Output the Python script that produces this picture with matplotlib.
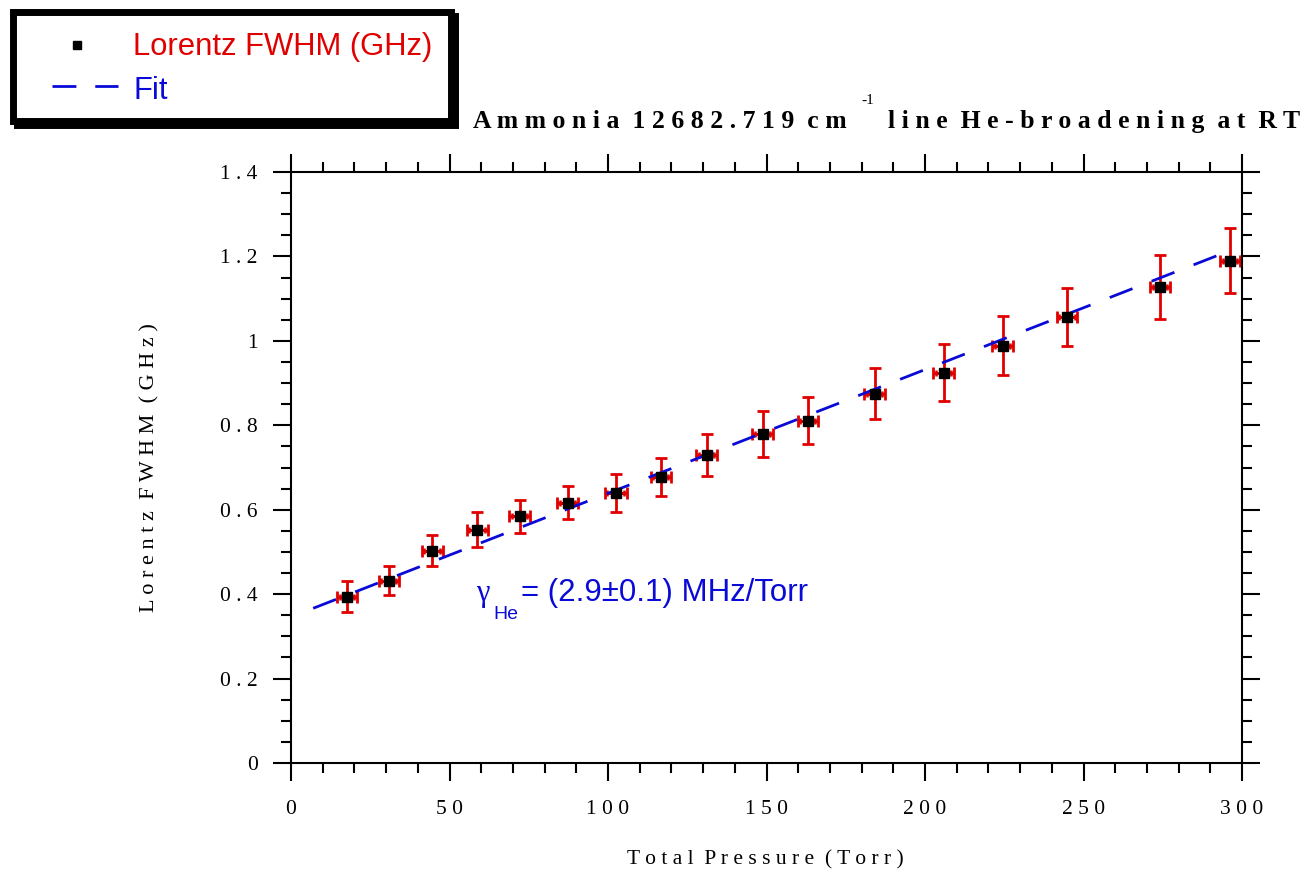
'''
Lorentz FWHM of the ammonia 12682.719 cm-1 line vs He pressure, with linear fit
'''
import matplotlib
matplotlib.use('Agg')
import matplotlib.pyplot as plt
from matplotlib.patches import Rectangle
from matplotlib.lines import Line2D
from matplotlib.ticker import MultipleLocator, FuncFormatter

# data
pressure = [17.6, 30.8, 44.5, 58.7, 72.2, 87.3, 102.4, 116.6, 131.1,
            148.8, 163.0, 184.1, 205.9, 224.5, 244.8, 274.1, 296.2]
fwhm = [0.394, 0.432, 0.503, 0.553, 0.584, 0.617, 0.640, 0.678, 0.730,
        0.780, 0.811, 0.875, 0.925, 0.989, 1.057, 1.128, 1.190]
fwhm_err = [0.036, 0.034, 0.036, 0.042, 0.039, 0.039, 0.045, 0.045, 0.049,
            0.055, 0.055, 0.061, 0.068, 0.070, 0.068, 0.076, 0.077]
p_err = [3.15, 3.15, 3.3, 3.3, 3.3, 3.25, 3.5, 3.15, 3.25,
         3.25, 3.15, 3.25, 3.3, 3.25, 3.3, 3.15, 3.15]
p_err_in = [2.3, 2.3, 2.4, 2.4, 2.4, 2.35, 2.6, 2.3, 2.35,
            2.35, 2.3, 2.35, 2.4, 2.35, 2.4, 2.3, 2.3]
fit_p = [7.0, 296.2]
fit_w = [0.3665, 1.2137]

xticks = [0, 50, 100, 150, 200, 250, 300]
yticks = [0, 0.2, 0.4, 0.6, 0.8, 1.0, 1.2, 1.4]

RED = '#e00000'
BLUE = '#0a0ad8'
W, H = 1306, 877

def fx(x):
    return x / W

def fy(y):
    return 1 - y / H

def spaced(v, pos=None):
    return ' '.join('%g' % v)

fig = plt.figure(figsize=(W / 100, H / 100), dpi=100)
ax = fig.add_axes([fx(291), fy(763), (1242 - 291) / W, (763 - 172) / H])

ax.errorbar(pressure, fwhm, yerr=fwhm_err, fmt='none', ecolor=RED,
            elinewidth=2, capsize=4.5, capthick=2, zorder=2)
ax.errorbar(pressure, fwhm, xerr=p_err, fmt='none', ecolor=RED,
            elinewidth=2, capsize=4.5, capthick=2, zorder=2)
ax.errorbar(pressure, fwhm, xerr=p_err_in, fmt='none', ecolor=RED,
            elinewidth=2, capsize=2.2, capthick=1.8, zorder=2)
ax.plot(fit_p, fit_w, color=BLUE, lw=2, dashes=(8.8, 7.4), zorder=3)
ax.plot(pressure, fwhm, 's', color='black', ms=7, zorder=4)

ax.set_xlim(0, 300)
ax.set_ylim(0, 1.4)
ax.set_xticks(xticks)
ax.set_yticks(yticks)
ax.xaxis.set_minor_locator(MultipleLocator(10))
ax.yaxis.set_minor_locator(MultipleLocator(0.05))
ax.xaxis.set_major_formatter(FuncFormatter(spaced))
ax.yaxis.set_major_formatter(FuncFormatter(spaced))
ax.tick_params(which='both', direction='out', top=True, right=True,
               width=1.5, color='black')
ax.tick_params(which='major', length=13)
ax.tick_params(which='minor', length=7.5)
ax.tick_params(axis='x', which='major', pad=14)
ax.tick_params(axis='y', which='major', pad=11)
for lab in ax.get_xticklabels() + ax.get_yticklabels():
    lab.set_family('Liberation Serif')
    lab.set_fontsize(15.5)
for s in ax.spines.values():
    s.set_linewidth(1.5)

# axis labels
fig.text(fx(150), fy(468), 'L o r e n t z  F W H M  ( G H z )', rotation=90,
         family='Liberation Serif', fontsize=16, ha='center', va='center')
fig.text(fx(765), fy(860), 'T o t a l  P r e s s u r e  ( T o r r )',
         family='Liberation Serif', fontsize=15.5, ha='center', va='center')

# title in three pieces
fig.text(fx(473), fy(128), 'A m m o n i a  1 2 6 8 2 . 7 1 9  c m',
         family='Liberation Serif', weight='bold', fontsize=18.5, va='baseline')
fig.text(fx(861), fy(104), '-1', family='Liberation Serif', fontsize=11,
         va='baseline')
fig.text(fx(1300), fy(128), 'l i n e  H e - b r o a d e n i n g  a t  R T',
         family='Liberation Serif', weight='bold', fontsize=18.5,
         va='baseline', ha='right')

# result annotation
fig.text(fx(476), fy(601), '\u03b3', family='Liberation Serif', fontsize=22,
         color=BLUE, va='baseline')
fig.text(fx(493), fy(619), 'He', family='Liberation Sans', fontsize=14,
         color=BLUE, va='baseline')
fig.text(fx(521), fy(601), '= (2.9\u00b10.1) MHz/Torr', family='Liberation Sans',
         fontsize=22.5, color=BLUE, va='baseline')

# legend box drawn by hand (thick frame, offset shadow)
fig.add_artist(Rectangle((fx(17), fy(124.5)), fx(454.5) - fx(17), fy(15.5) - fy(124.5),
                         transform=fig.transFigure, fc='black', ec='black', lw=5))
fig.add_artist(Rectangle((fx(13), fy(120.5)), fx(450.5) - fx(13), fy(11.5) - fy(120.5),
                         transform=fig.transFigure, fc='white', ec='black', lw=5))
fig.add_artist(Line2D([fx(77)], [fy(45)], marker='s', ms=6, color='black',
                      transform=fig.transFigure))
fig.add_artist(Line2D([fx(52), fx(118)], [fy(86), fy(86)], color=BLUE, lw=2,
                      dashes=(8.6, 6.8), transform=fig.transFigure))
fig.text(fx(133), fy(55), 'Lorentz FWHM (GHz)', family='Liberation Sans',
         fontsize=22.3, color=RED, va='baseline')
fig.text(fx(133), fy(99), 'Fit', family='Liberation Sans', fontsize=22.3,
         color=BLUE, va='baseline')

plt.savefig('out.png', dpi=100)
